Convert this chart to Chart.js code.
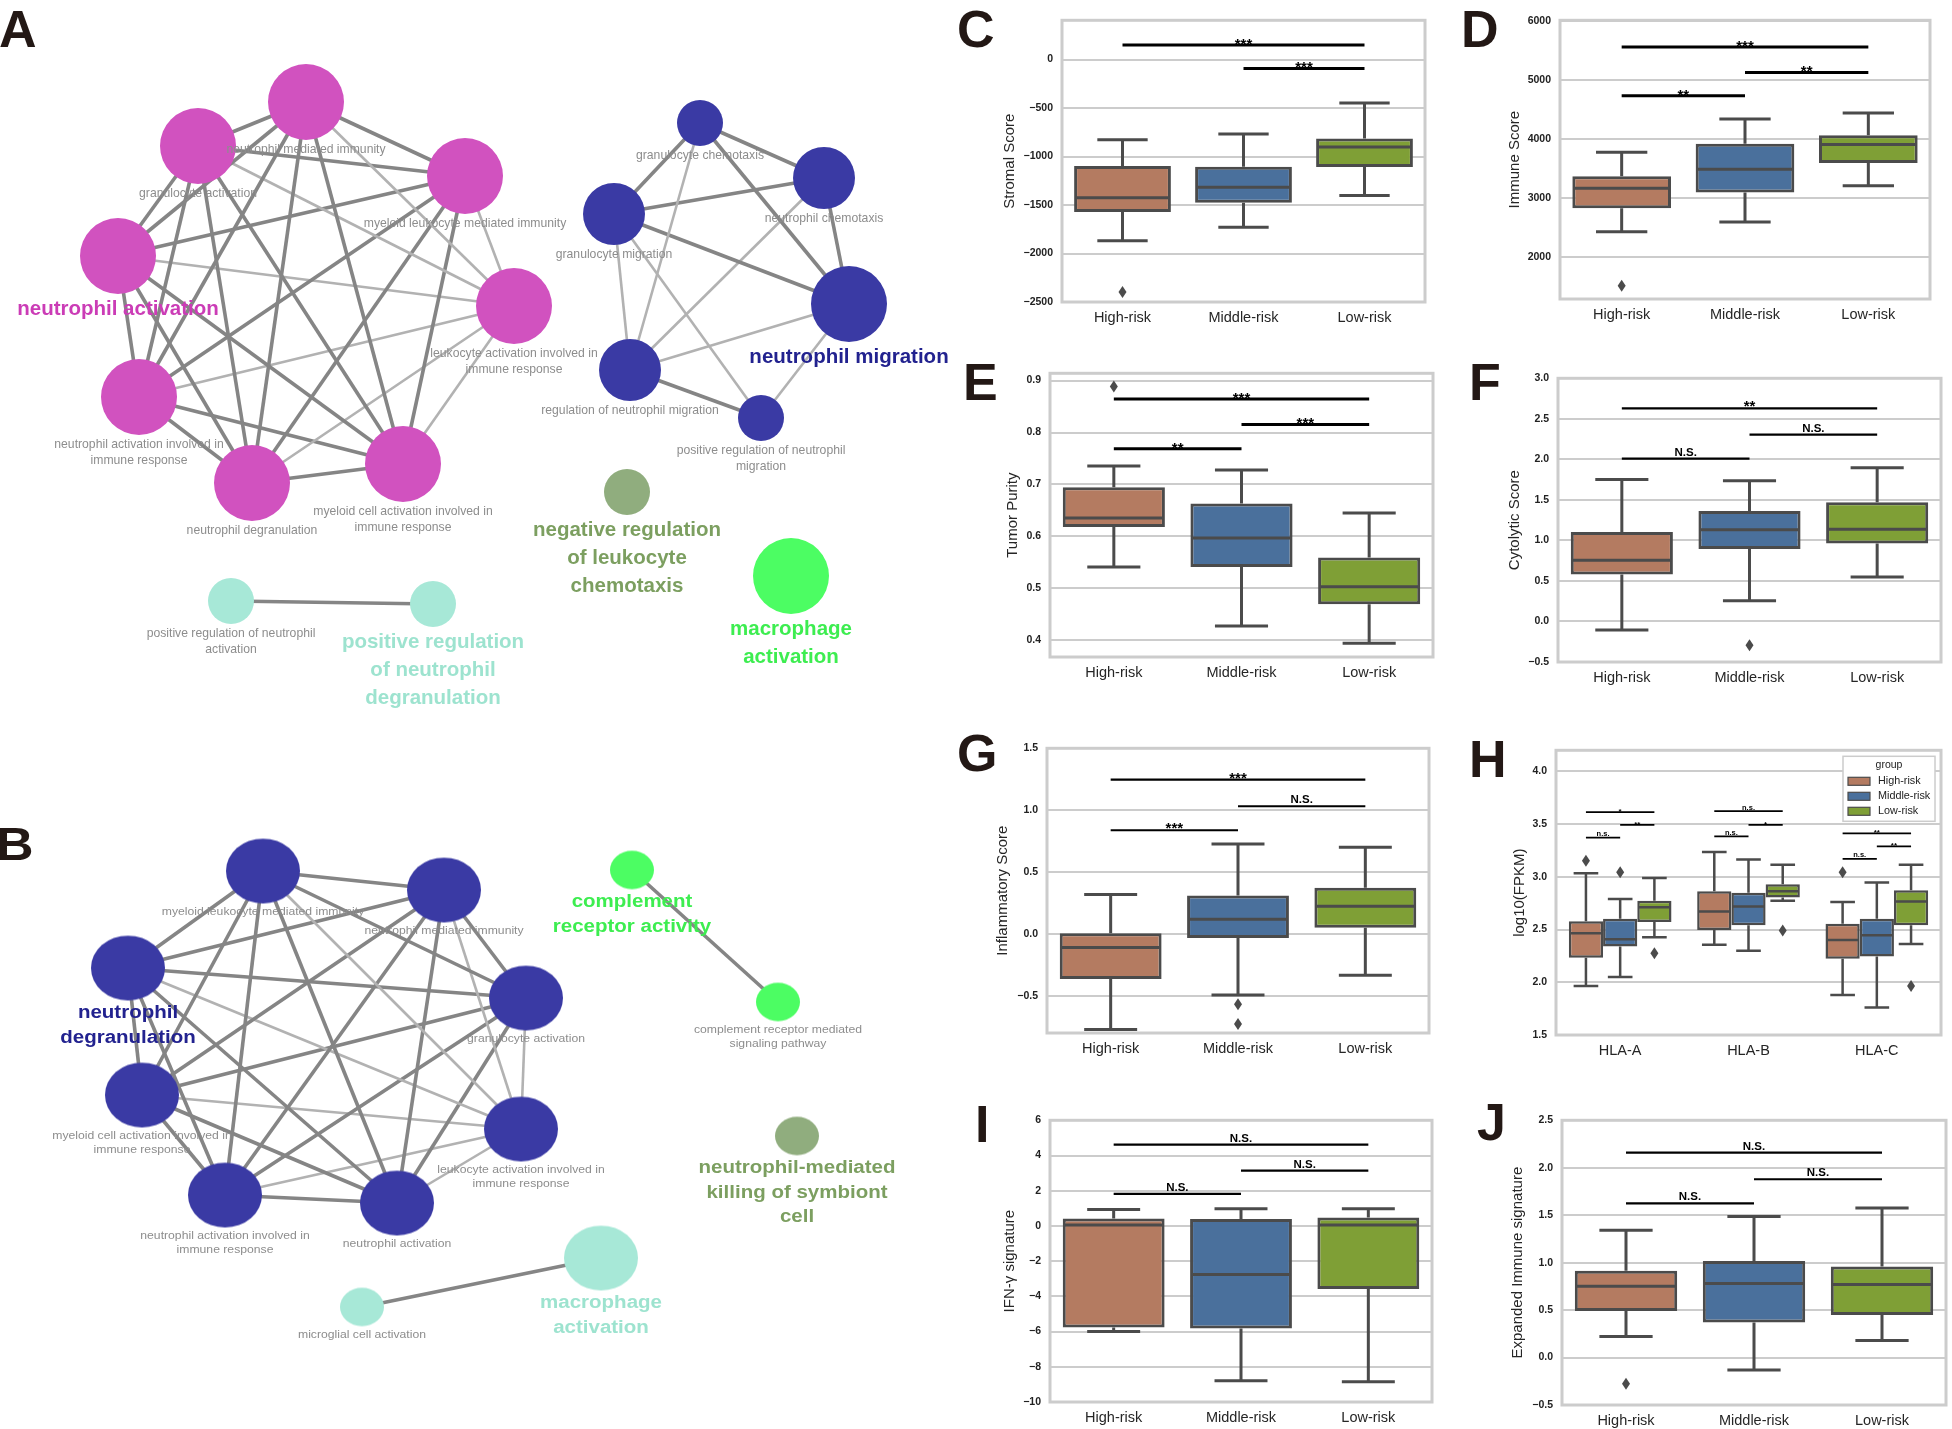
<!DOCTYPE html>
<html><head><meta charset="utf-8">
<script src="https://cdn.jsdelivr.net/npm/chart.js@4.4.1/dist/chart.umd.min.js"></script>
<style>
html,body{margin:0;padding:0;background:#fff;}
body{width:1952px;height:1429px;overflow:hidden;position:relative;}
canvas{position:absolute;}
.lt{position:absolute;font-family:'Liberation Sans',Arial,sans-serif;font-weight:bold;font-size:52px;line-height:52px;color:#231815;}
</style></head><body>
<div class="lt" style="left:-1px;top:3px">A</div>
<div class="lt" style="left:-4px;top:821px;transform:scaleY(0.88);transform-origin:top left">B</div>
<div class="lt" style="left:957px;top:3px">C</div>
<div class="lt" style="left:1461px;top:3px">D</div>
<div class="lt" style="left:963px;top:356px">E</div>
<div class="lt" style="left:1469px;top:356px">F</div>
<div class="lt" style="left:957px;top:727px">G</div>
<div class="lt" style="left:1469px;top:733px">H</div>
<div class="lt" style="left:975px;top:1098px">I</div>
<div class="lt" style="left:1477px;top:1096px">J</div>
<script>
// ===================== DATA =====================
const riskGroups = ['High-risk', 'Middle-risk', 'Low-risk'];
const hlaGenes = ['HLA-A', 'HLA-B', 'HLA-C'];

// box rows: [lower whisker, Q1, median, Q3, upper whisker], one per risk group
const stromalScore = [[-1868, -1571, -1426, -1098, -828], [-1730, -1476, -1317, -1105, -767], [-1402, -1108, -902, -814, -449]];
const stromalOutliers = [[-2398], [], []];
const stromalSig = [[0, 2, 149, '***'], [1, 2, -91, '***']];
const stromalTicks = [-2500, -2000, -1500, -1000, -500, 0];

const immuneScore = [[2435, 2834, 3172, 3377, 3781], [2601, 3100, 3493, 3925, 4346], [3216, 3598, 3914, 4069, 4446]];
const immuneOutliers = [[1521], [], []];
const immuneSig = [[0, 2, 5565, '***'], [1, 2, 5133, '**'], [0, 1, 4740, '**']];
const immuneTicks = [2000, 3000, 4000, 5000, 6000];

const tumorPurity = [[0.541, 0.618, 0.6355, 0.6947, 0.7356], [0.4277, 0.541, 0.5972, 0.6632, 0.728], [0.3943, 0.4693, 0.5033, 0.5593, 0.645]];
const purityOutliers = [[0.8887], [], []];
const puritySig = [[0, 2, 0.8647, '***'], [1, 2, 0.8156, '***'], [0, 1, 0.769, '**']];
const purityTicks = [0.4, 0.5, 0.6, 0.7, 0.8, 0.9];

const cytolyticScore = [[-0.104, 0.581, 0.754, 1.103, 1.752], [0.257, 0.894, 1.131, 1.363, 1.736], [0.549, 0.962, 1.139, 1.472, 1.897]];
const cytolyticOutliers = [[], [-0.293], []];
const cytolyticSig = [[0, 2, 2.63, '**'], [1, 2, 2.306, 'N.S.'], [0, 1, 2.009, 'N.S.']];
const cytolyticTicks = [-0.5, 0, 0.5, 1.0, 1.5, 2.0, 2.5, 3.0];

const inflammatoryScore = [[-0.772, -0.363, -0.109, 0.005, 0.318], [-0.493, -0.032, 0.119, 0.310, 0.727], [-0.334, 0.050, 0.223, 0.374, 0.700]];
const inflammatoryOutliers = [[], [-0.568, -0.727], []];
const inflammatorySig = [[0, 2, 1.247, '***'], [1, 2, 1.032, 'N.S.'], [0, 1, 0.838, '***']];
const inflammatoryTicks = [-0.5, 0, 0.5, 1.0, 1.5];

// HLA rows: one per gene (HLA-A, HLA-B, HLA-C)
const hlaHigh = [[1.965, 2.232, 2.464, 2.579, 3.034], [2.356, 2.495, 2.672, 2.864, 3.235], [1.879, 2.222, 2.402, 2.554, 2.761]];
const hlaMiddle = [[2.049, 2.340, 2.408, 2.603, 2.789], [2.300, 2.542, 2.718, 2.848, 3.164], [1.761, 2.244, 2.445, 2.603, 2.947]];
const hlaLow = [[2.427, 2.572, 2.712, 2.774, 2.988], [2.774, 2.805, 2.864, 2.929, 3.115], [2.362, 2.542, 2.765, 2.873, 3.115]];
const hlaHighOutliers = [[3.152], [], [3.043]];
const hlaMiddleOutliers = [[3.043], [], []];
const hlaLowOutliers = [[2.275], [2.492], [1.965]];
// [gene, group a, group b, bar level, label]
const hlaSig = [[0, 0, 2, 3.613, '*'], [0, 1, 2, 3.493, '**'], [0, 0, 1, 3.372, 'n.s.'],
                [1, 0, 2, 3.623, 'n.s.'], [1, 1, 2, 3.493, '*'], [1, 0, 1, 3.384, 'n.s.'],
                [2, 0, 2, 3.412, '**'], [2, 1, 2, 3.288, '**'], [2, 0, 1, 3.170, 'n.s.']];
const hlaTicks = [1.5, 2.0, 2.5, 3.0, 3.5, 4.0];

const ifngSignature = [[-5.99, -5.77, 0.056, 0.427, 0.928], [-8.79, -5.83, -2.76, 0.39, 0.983], [-8.85, -3.58, 0.056, 0.482, 0.983]];
const ifngOutliers = [[], [], []];
const ifngSig = [[0, 2, 4.62, 'N.S.'], [1, 2, 3.14, 'N.S.'], [0, 1, 1.82, 'N.S.']];
const ifngTicks = [-10, -8, -6, -4, -2, 0, 2, 4, 6];

const expandedImmune = [[0.221, 0.49, 0.752, 0.914, 1.341], [-0.131, 0.369, 0.779, 1.017, 1.486], [0.179, 0.448, 0.769, 0.959, 1.576]];
const expandedOutliers = [[-0.276], [], []];
const expandedSig = [[0, 2, 2.159, 'N.S.'], [1, 2, 1.879, 'N.S.'], [0, 1, 1.624, 'N.S.']];
const expandedTicks = [-0.5, 0, 0.5, 1.0, 1.5, 2.0, 2.5];

// Network A (GO term enrichment map)
const netATerms = ['neutrophil mediated immunity', 'granulocyte activation', 'myeloid leukocyte mediated immunity', 'neutrophil activation',
  'leukocyte activation involved in\nimmune response', 'neutrophil activation involved in\nimmune response', 'neutrophil degranulation',
  'myeloid cell activation involved in\nimmune response', 'granulocyte chemotaxis', 'neutrophil chemotaxis', 'granulocyte migration',
  'neutrophil migration', 'regulation of neutrophil migration', 'positive regulation of neutrophil\nmigration',
  'negative regulation\nof leukocyte\nchemotaxis', 'macrophage\nactivation', 'positive regulation of neutrophil\nactivation',
  'positive regulation\nof neutrophil\ndegranulation'];
const netAX = [306, 198, 465, 118, 514, 139, 252, 403, 700, 824, 614, 849, 630, 761, 627, 791, 231, 433];
const netAY = [102, 146, 176, 256, 306, 397, 483, 464, 123, 178, 214, 304, 370, 418, 492, 576, 601, 604];
const netASize = [38, 38, 38, 38, 38, 38, 38, 38, 23, 31, 31, 38, 31, 23, 23, 38, 23, 23];
const netACluster = [0, 0, 0, 0, 0, 0, 0, 0, 1, 1, 1, 1, 1, 1, 2, 3, 4, 4];
const netALead = [0, 0, 0, 1, 0, 0, 0, 0, 0, 0, 0, 1, 0, 0, 1, 1, 0, 1];
// [node a, node b, strong(1)/weak(0)]
const netAEdges = [[0,1,1],[0,2,1],[0,3,1],[0,4,0],[0,5,1],[0,6,1],[0,7,1],[1,2,1],[1,3,1],[1,4,0],[1,5,1],[1,6,1],[1,7,1],
  [2,3,1],[2,4,0],[2,5,1],[2,6,1],[2,7,1],[3,4,0],[3,5,1],[3,6,1],[3,7,1],[4,5,0],[4,6,0],[4,7,0],[5,6,1],[5,7,1],[6,7,1],
  [8,10,1],[8,9,1],[8,11,1],[8,12,0],[10,9,1],[10,11,1],[10,12,0],[10,13,0],[9,12,0],[9,11,1],[12,11,0],[12,13,1],[13,11,0],
  [16,17,1]];

// Network B
const netBTerms = ['myeloid leukocyte mediated immunity', 'neutrophil mediated immunity', 'neutrophil\ndegranulation', 'granulocyte activation',
  'myeloid cell activation involved in\nimmune response', 'leukocyte activation involved in\nimmune response',
  'neutrophil activation involved in\nimmune response', 'neutrophil activation', 'complement\nreceptor activity',
  'complement receptor mediated\nsignaling pathway', 'neutrophil-mediated\nkilling of symbiont\ncell', 'macrophage\nactivation',
  'microglial cell activation'];
const netBX = [263, 444, 128, 526, 142, 521, 225, 397, 632, 778, 797, 601, 362];
const netBY = [871, 890, 968, 998, 1095, 1129, 1195, 1203, 870, 1002, 1136, 1258, 1307];
const netBSize = [37, 37, 37, 37, 37, 37, 37, 37, 22, 22, 22, 37, 22];
const netBCluster = [0, 0, 0, 0, 0, 0, 0, 0, 1, 1, 2, 3, 3];
const netBLead = [0, 0, 1, 0, 0, 0, 0, 0, 1, 0, 1, 1, 0];
const netBEdges = [[0,1,1],[0,2,1],[0,3,1],[0,4,1],[0,5,0],[0,6,1],[0,7,1],[1,2,1],[1,3,1],[1,4,1],[1,5,0],[1,6,1],[1,7,1],
  [2,3,1],[2,4,1],[2,5,0],[2,6,1],[2,7,1],[3,4,1],[3,5,0],[3,6,1],[3,7,1],[4,5,0],[4,6,1],[4,7,1],[5,6,0],[5,7,0],[6,7,1],
  [8,9,1],[11,12,1]];

// ===================== STYLE / RENDER =====================
const FONT = "'Liberation Sans', Arial, Helvetica, sans-serif";
Chart.defaults.font.family = FONT;
const EDGE = '#4b4b4b';
const RISK_COLORS = ['#b47b61', '#4a709c', '#7f9f36'];

function mk(left, top, w, h) {
  const c = document.createElement('canvas');
  c.width = w; c.height = h;
  c.style.left = left + 'px'; c.style.top = top + 'px';
  document.body.appendChild(c);
  return c;
}

function fmt(dec) {
  return v => { if (Math.abs(v) < 1e-9) v = 0; return (v < 0 ? '\u2212' : '') + Math.abs(v).toFixed(dec); };
}

function boxPlugin(cfg) {
  return {
    id: 'boxes',
    beforeDatasetsDraw(chart) {
      const a = chart.chartArea, c = chart.ctx;
      c.save(); c.strokeStyle = '#cccccc'; c.lineWidth = 3;
      c.strokeRect(a.left, a.top, a.right - a.left, a.bottom - a.top);
      c.restore();
    },
    afterDatasetsDraw(chart) {
      const c = chart.ctx, ys = chart.scales.y, xs = chart.scales.x;
      const py = v => ys.getPixelForValue(v);
      c.save();
      cfg.series.forEach((s, di) => {
        const meta = chart.getDatasetMeta(di);
        s.rows.forEach((r, i) => {
          const el = meta.data[i]; const x = el.x, w = el.width;
          const cap = w * cfg.capFrac / 2;
          c.strokeStyle = EDGE; c.lineWidth = cfg.lw; c.lineCap = 'butt';
          c.beginPath();
          c.moveTo(x, py(r[3])); c.lineTo(x, py(r[4]));
          c.moveTo(x - cap, py(r[4])); c.lineTo(x + cap, py(r[4]));
          c.moveTo(x, py(r[1])); c.lineTo(x, py(r[0]));
          c.moveTo(x - cap, py(r[0])); c.lineTo(x + cap, py(r[0]));
          c.moveTo(x - w / 2 + cfg.lw / 2, py(r[2])); c.lineTo(x + w / 2 - cfg.lw / 2, py(r[2]));
          c.stroke();
          (s.out[i] || []).forEach(v => {
            const oy = py(v);
            c.beginPath(); c.moveTo(x, oy - 6); c.lineTo(x + 4, oy); c.lineTo(x, oy + 6); c.lineTo(x - 4, oy); c.closePath();
            c.fillStyle = EDGE; c.fill();
          });
        });
      });
      (cfg.sig || []).forEach(s => {
        let x1, x2, v, t;
        if (cfg.hueSig) {
          const [g, a, b, val, txt] = s;
          x1 = chart.getDatasetMeta(a).data[g].x; x2 = chart.getDatasetMeta(b).data[g].x; v = val; t = txt;
        } else {
          const [a, b, val, txt] = s;
          x1 = xs.getPixelForValue(a); x2 = xs.getPixelForValue(b); v = val; t = txt;
        }
        const y = py(v);
        c.strokeStyle = '#000'; c.lineWidth = cfg.sigLW;
        c.beginPath(); c.moveTo(x1, y); c.lineTo(x2, y); c.stroke();
        const stars = /^\*+$/.test(t);
        c.fillStyle = '#000'; c.textAlign = 'center'; c.textBaseline = 'alphabetic';
        c.font = 'bold ' + (stars ? cfg.starSize : cfg.nsSize) + 'px ' + FONT;
        c.fillText(t, (x1 + x2) / 2, y + (stars ? cfg.starDy : cfg.nsDy));
      });
      c.restore();
    },
    afterDraw(chart) {
      if (!cfg.legend) return;
      const a = chart.chartArea, c = chart.ctx;
      const w = 92, h = 65, L = a.right - 6 - w, T = a.top + 6;
      c.save();
      c.fillStyle = '#fff'; c.fillRect(L, T, w, h);
      c.strokeStyle = '#cccccc'; c.lineWidth = 1.5; c.strokeRect(L, T, w, h);
      c.fillStyle = '#222'; c.textAlign = 'center'; c.textBaseline = 'middle';
      c.font = '10.5px ' + FONT; c.fillText(cfg.legend.title, L + w / 2, T + 9);
      cfg.series.forEach((s, i) => {
        const yy = T + 25 + i * 15;
        c.fillStyle = s.color; c.fillRect(L + 5, yy - 4, 22, 8);
        c.strokeStyle = EDGE; c.lineWidth = 1.2; c.strokeRect(L + 5, yy - 4, 22, 8);
        c.fillStyle = '#222'; c.textAlign = 'left'; c.font = '10.8px ' + FONT;
        c.fillText(s.name, L + 35, yy);
      });
      c.restore();
    }
  };
}

function boxPanel(cfg) {
  const f = cfg.frame;
  const left = cfg.titleX - 9, top = f.T - 10;
  const width = f.R + 10 - left, height = f.B + 32 - top;
  const canvas = mk(left, top, width, height);
  const yW = f.L - left;
  new Chart(canvas, {
    type: 'bar',
    data: {
      labels: cfg.labels,
      datasets: cfg.series.map(s => ({
        label: s.name,
        data: s.rows.map(r => [r[1], r[3]]),
        backgroundColor: s.color,
        borderColor: EDGE, borderWidth: cfg.lw, borderSkipped: false,
        categoryPercentage: 0.8, barPercentage: 1
      }))
    },
    options: {
      responsive: false, animation: false, events: [],
      layout: { padding: { top: 10, right: 10, left: 0, bottom: 0 }, autoPadding: false },
      plugins: { legend: { display: false }, tooltip: { enabled: false } },
      scales: {
        x: {
          grid: { display: false, drawTicks: false }, border: { display: false },
          ticks: { padding: 7, color: '#262626', font: { size: 14.5 } },
          afterFit(s) { s.height = 32; }
        },
        y: {
          min: cfg.yMin, max: cfg.yMax,
          ticks: { padding: 9, color: '#222', font: { size: 10.5, weight: 'bold' }, callback: fmt(cfg.dec) },
          afterBuildTicks(s) { s.ticks = cfg.ticks.map(v => ({ value: v })); },
          grid: { color: '#cccccc', lineWidth: 2, drawTicks: false }, border: { display: false },
          title: { display: true, text: cfg.title, padding: 0, color: '#262626', font: { size: 15 } },
          afterFit(s) { s.width = yW; }
        }
      }
    },
    plugins: [boxPlugin(cfg)]
  });
}

const bigSig = { sigLW: 3, starSize: 15, nsSize: 11.5, starDy: 4, nsDy: -3 };
const smallSig = { sigLW: 2.2, starSize: 15, nsSize: 11.5, starDy: 3, nsDy: -3 };
function single(rows, out) { return [{ name: 'score', rows, out, color: RISK_COLORS }]; }

boxPanel(Object.assign({ frame: { L: 1062, R: 1425, T: 15, B: 302 }, titleX: 1010, title: 'Stromal Score', yMin: -2500, yMax: 405, ticks: stromalTicks, dec: 0,
  labels: riskGroups, series: single(stromalScore, stromalOutliers), sig: stromalSig, capFrac: 0.52, lw: 3 }, bigSig));
boxPanel(Object.assign({ frame: { L: 1560, R: 1930, T: 15, B: 299 }, titleX: 1515, title: 'Immune Score', yMin: 1296, yMax: 6017, ticks: immuneTicks, dec: 0,
  labels: riskGroups, series: single(immuneScore, immuneOutliers), sig: immuneSig, capFrac: 0.52, lw: 3 }, bigSig));
boxPanel(Object.assign({ frame: { L: 1050, R: 1433, T: 368, B: 657 }, titleX: 1013, title: 'Tumor Purity', yMin: 0.368, yMax: 0.914, ticks: purityTicks, dec: 1,
  labels: riskGroups, series: single(tumorPurity, purityOutliers), sig: puritySig, capFrac: 0.52, lw: 3 }, bigSig));
boxPanel(Object.assign({ frame: { L: 1558, R: 1941, T: 373, B: 662 }, titleX: 1515, title: 'Cytolytic Score', yMin: -0.5, yMax: 3.0, ticks: cytolyticTicks, dec: 1,
  labels: riskGroups, series: single(cytolyticScore, cytolyticOutliers), sig: cytolyticSig, capFrac: 0.52, lw: 3 }, smallSig));
boxPanel(Object.assign({ frame: { L: 1047, R: 1429, T: 743, B: 1033 }, titleX: 1003, title: 'Inflammatory Score', yMin: -0.80, yMax: 1.5, ticks: inflammatoryTicks, dec: 1,
  labels: riskGroups, series: single(inflammatoryScore, inflammatoryOutliers), sig: inflammatorySig, capFrac: 0.52, lw: 3 }, smallSig));
boxPanel({ frame: { L: 1556, R: 1941, T: 745, B: 1035 }, titleX: 1520, title: 'log10(FPKM)', yMin: 1.5, yMax: 4.2, ticks: hlaTicks, dec: 1,
  labels: hlaGenes, hueSig: true, legend: { title: 'group' },
  series: [{ name: riskGroups[0], rows: hlaHigh, out: hlaHighOutliers, color: RISK_COLORS[0] },
           { name: riskGroups[1], rows: hlaMiddle, out: hlaMiddleOutliers, color: RISK_COLORS[1] },
           { name: riskGroups[2], rows: hlaLow, out: hlaLowOutliers, color: RISK_COLORS[2] }],
  sig: hlaSig, capFrac: 0.72, lw: 2.5, sigLW: 1.8, starSize: 8, nsSize: 7.5, starDy: 2, nsDy: -1.5 });
boxPanel(Object.assign({ frame: { L: 1050, R: 1432, T: 1115, B: 1402 }, titleX: 1010, title: 'IFN-\u03b3 signature', yMin: -10, yMax: 6, ticks: ifngTicks, dec: 0,
  labels: riskGroups, series: single(ifngSignature, ifngOutliers), sig: ifngSig, capFrac: 0.52, lw: 3 }, smallSig));
boxPanel(Object.assign({ frame: { L: 1562, R: 1946, T: 1115, B: 1405 }, titleX: 1518, title: 'Expanded Immune signature', yMin: -0.5, yMax: 2.5, ticks: expandedTicks, dec: 1,
  labels: riskGroups, series: single(expandedImmune, expandedOutliers), sig: expandedSig, capFrac: 0.52, lw: 3 }, smallSig));

// ---------- networks ----------
function networkPanel(top, height, net, style) {
  const canvas = mk(0, top, 960, height);
  const sq = style.squash;
  const pt = i => ({ x: net.x[i], y: net.y[i] });
  const nodeStyles = net.size.map((r, i) => {
    if (sq === 1) return 'circle';
    const c = document.createElement('canvas');
    const w = Math.ceil(2 * r) + 2, h = Math.ceil(2 * r * sq) + 2;
    c.width = w; c.height = h;
    const g = c.getContext('2d');
    g.fillStyle = style.nodeColors[net.cluster[i]];
    g.beginPath(); g.ellipse(w / 2, h / 2, r, r * sq, 0, 0, Math.PI * 2); g.fill();
    return c;
  });
  const datasets = [{
    data: net.x.map((_, i) => pt(i)),
    pointRadius: net.size, pointStyle: nodeStyles,
    pointBackgroundColor: net.cluster.map(g => style.nodeColors[g]),
    pointBorderWidth: 0, order: 1, clip: false
  }];
  net.edges.forEach(e => datasets.push({
    data: [pt(e[0]), pt(e[1])], showLine: true, pointRadius: 0,
    borderColor: e[2] ? '#858585' : '#b2b2b2', borderWidth: e[2] ? 3.6 : 2.6, order: 2
  }));
  new Chart(canvas, {
    type: 'scatter',
    data: { datasets },
    options: {
      responsive: false, animation: false, events: [],
      layout: { padding: 0, autoPadding: false },
      plugins: { legend: { display: false }, tooltip: { enabled: false } },
      scales: {
        x: { type: 'linear', display: false, min: 0, max: 960 },
        y: { type: 'linear', display: false, min: top, max: top + height, reverse: true }
      }
    },
    plugins: [{
      id: 'labels',
      afterDatasetsDraw(chart) {
        const c = chart.ctx, xs = chart.scales.x, ys = chart.scales.y;
        c.save(); c.textAlign = 'center'; c.textBaseline = 'middle';
        net.terms.forEach((txt, i) => {
          const lead = net.lead[i];
          const px = xs.getPixelForValue(net.x[i]);
          const py = ys.getPixelForValue(net.y[i]);
          const ry = net.size[i] * sq;
          const gap = (lead ? 15 : 10) * sq, step = (lead ? 28 : 16) * sq;
          c.font = lead ? 'bold 20.5px ' + FONT : '12.2px ' + FONT;
          c.fillStyle = lead ? style.labelColors[net.cluster[i]] : '#8d8d8d';
          txt.split('\n').forEach((ln, k) => {
            c.save(); c.translate(px, py + ry + gap + k * step); c.scale(1, sq);
            c.fillText(ln, 0, 0); c.restore();
          });
        });
        c.restore();
      }
    }]
  });
}

networkPanel(0, 740, { terms: netATerms, x: netAX, y: netAY, size: netASize, cluster: netACluster, lead: netALead, edges: netAEdges },
  { squash: 1, nodeColors: ['#d152bf', '#3a3aa4', '#90ad7e', '#4cfd63', '#a7e8d7'], labelColors: ['#cb3cb6', '#22228f', '#7c9f60', '#3ded50', '#9de3cf'] });
networkPanel(790, 639, { terms: netBTerms, x: netBX, y: netBY, size: netBSize, cluster: netBCluster, lead: netBLead, edges: netBEdges },
  { squash: 0.875, nodeColors: ['#3a3aa4', '#4cfd63', '#90ad7e', '#a7e8d7'], labelColors: ['#22228f', '#3ded50', '#7c9f60', '#9de3cf'] });
</script>
</body></html>
